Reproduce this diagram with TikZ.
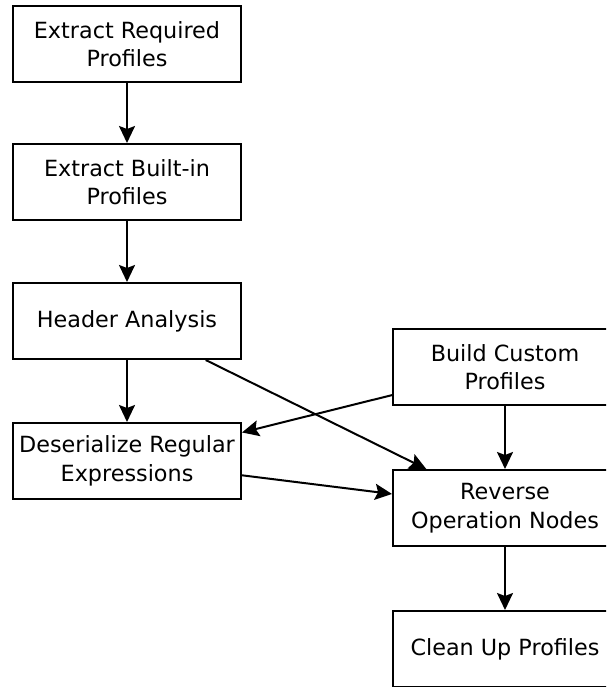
\documentclass[tikz,border=0pt]{standalone}
\usepackage{fontspec}
\setmainfont{DejaVu Sans}
\usetikzlibrary{arrows.meta}
\begin{document}
\begin{tikzpicture}[x=1pt,y=-1pt,
  box/.style={draw, line width=2pt, rectangle, align=center, inner sep=0pt,
    minimum height=76pt, font=\fontsize{22.3}{28.5}\selectfont},
  lbox/.style={box, minimum width=228pt},
  rbox/.style={box, minimum width=224pt},
  conn/.style={line width=2pt, -{Stealth[length=17pt,width=16pt,inset=3pt]}}]
\useasboundingbox (0,0) rectangle (606,687);
\clip (0,0) rectangle (606,687);
\node[lbox] (a) at (127,44) {Extract Required\\Profiles};
\node[lbox] (b) at (127,182) {Extract Built-in\\Profiles};
\node[lbox] (h) at (127,321) {Header Analysis};
\node[lbox] (d) at (127,461) {Deserialize Regular\\Expressions};
\node[rbox] (c) at (505,367) {Build Custom\\Profiles};
\node[rbox] (r) at (505,508) {Reverse\\Operation Nodes};
\node[rbox] (u) at (505,649) {Clean Up Profiles};
\draw[conn] (a) -- (b);
\draw[conn] (b) -- (h);
\draw[conn] (h) -- (d);
\draw[conn] (h) -- (r);
\draw[conn] (c) -- (d);
\draw[conn] (d) -- (r);
\draw[conn] (c) -- (r);
\draw[conn] (r) -- (u);
\end{tikzpicture}
\end{document}
